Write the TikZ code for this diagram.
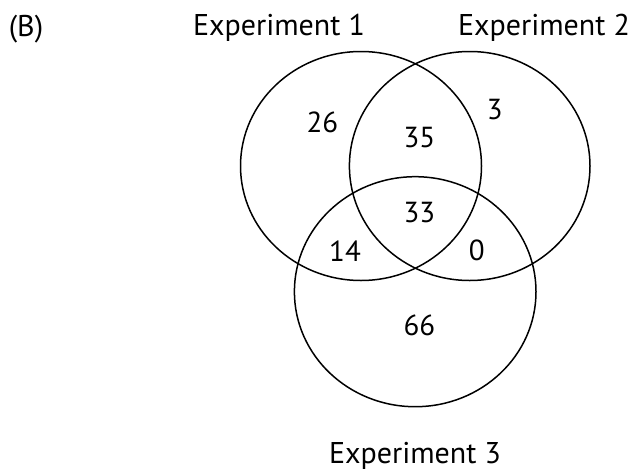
\documentclass[tikz,border=0pt]{standalone}
\usepackage{fontspec}
\setmainfont{PT Sans}
\usepackage{tikz}
\usetikzlibrary{positioning}

\begin{document}
\begin{tikzpicture}[x=1pt,y=-1pt,
  setline/.style={line width=1.5pt},
  setname/.style={anchor=base,inner sep=0pt,font=\fontsize{30}{32}\selectfont},
  count/.style={inner sep=0pt,font=\fontsize{29}{31}\selectfont}]
  \useasboundingbox (0,0) rectangle (636,471);
  % the three sets
  \draw[setline] (361,166)   ellipse [x radius=120.5, y radius=114.5];
  \draw[setline] (469.7,166) ellipse [x radius=120.3, y radius=114.5];
  \draw[setline] (415.2,291.7) ellipse [x radius=120.8, y radius=115];
  \node[setname] (panel) at (26,36)  {(B)};
  \node[setname] (exp1)  at (279,35) {Experiment 1};
  \node[setname] (exp2)  at (544,35) {Experiment 2};
  \node[setname] (exp3)  at (415,463) {Experiment 3};
  % counts per region
  \node[count] (only1)   at (322.3,122.3) {26};
  \node[count] (only2)   at (494.7,109.5) {3};
  \node[count] (both12)  at (419.3,137.3) {35};
  \node[count] (all)     at (419.3,212.7) {33};
  \node[count] (both13)  at (345,250.7)   {14};
  \node[count] (both23)  at (476.7,250.7) {0};
  \node[count] (only3)   at (419.3,325)   {66};
\end{tikzpicture}
\end{document}
